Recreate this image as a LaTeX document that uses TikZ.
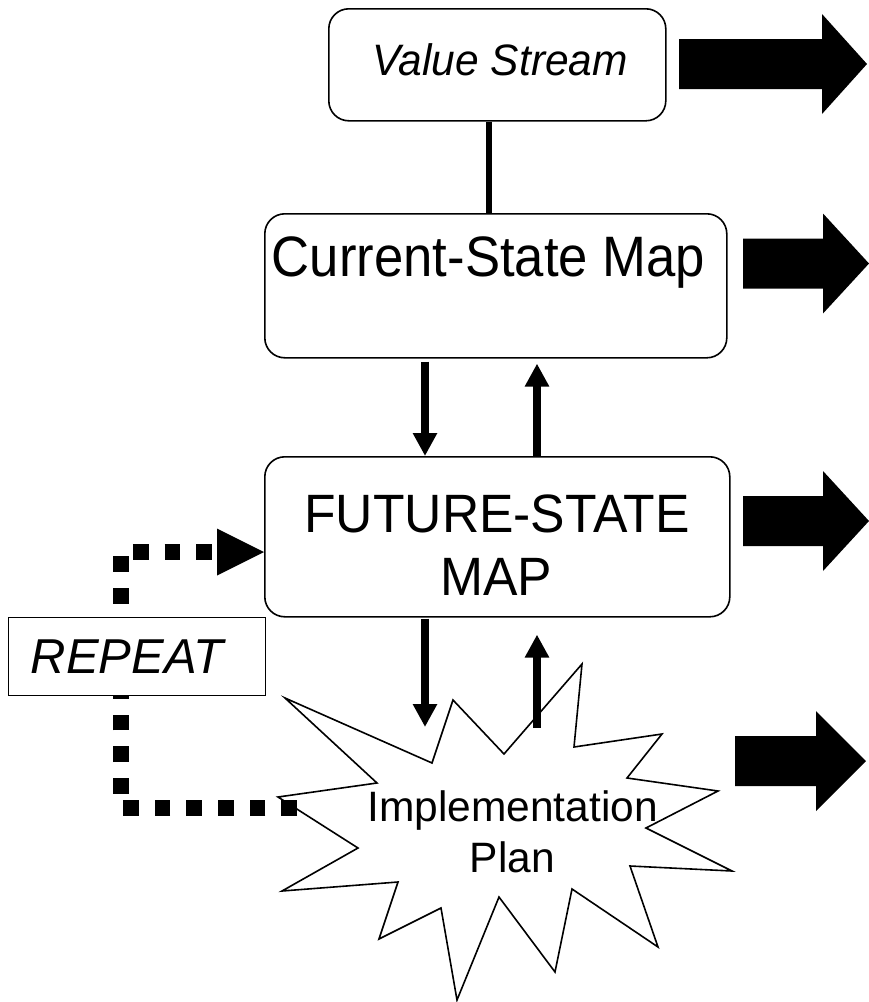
\documentclass[tikz,border=0pt]{standalone}
\usepackage{fontspec}
\usepackage{graphicx}
\setmainfont{Liberation Sans}
\usetikzlibrary{arrows.meta}

% horizontally condensed text
\newcommand\squeezed[2]{\scalebox{#1}[1]{#2}}

\begin{document}
\begin{tikzpicture}[x=1pt,y=-1pt,
  roundbox/.style={draw, line width=1.6pt, rounded corners=20pt, fill=white, inner sep=0pt},
  plainbox/.style={draw, line width=1.4pt, fill=white, inner sep=0pt},
  boxtext/.style={inner sep=0pt, anchor=base},
  flowarrow/.style={line width=8.5pt, -{Triangle[width=23pt 0 0,length=23pt 0 0]}},
  tieline/.style={line width=6pt},
  repeatpath/.style={line width=15.5pt, dash pattern=on 15.7pt off 16pt},
  starburst/.style={draw, line width=1.6pt, line join=miter, fill=white}
]
\useasboundingbox (0,0) rectangle (869,1002);

% map boxes
\node[roundbox, minimum width=337pt, minimum height=112pt, anchor=north west] (vs) at (328,8) {};
\node[roundbox, minimum width=462pt, minimum height=144pt, anchor=north west] (cs) at (264,213) {};
\node[roundbox, minimum width=465pt, minimum height=160pt, anchor=north west] (fs) at (264,456) {};

% implementation plan burst
\draw[starburst] (285,698) -- (432,763) -- (453,700) -- (504,754) -- (582,664)
  -- (574,747) -- (662,734) -- (627,778) -- (718,791) -- (646,828) -- (732,871)
  -- (630,866) -- (658,947) -- (572,889) -- (555,972) -- (499,897) -- (457,1000)
  -- (441,908) -- (379,939) -- (398,882) -- (282,891) -- (358,848) -- (278,797)
  -- (377,783) -- cycle;

% box texts
\node[boxtext, font=\fontsize{44}{48}\selectfont\itshape] (vstext) at (500,75) {\squeezed{0.965}{Value Stream}};
\node[boxtext, font=\fontsize{57}{60}\selectfont] (cstext) at (488.5,276) {\squeezed{0.924}{Current-State Map}};
\node[boxtext, font=\fontsize{54}{58}\selectfont] (fstext1) at (497,532) {\squeezed{0.956}{FUTURE-STATE}};
\node[boxtext, font=\fontsize{54}{58}\selectfont] (fstext2) at (496,595) {\squeezed{0.956}{MAP}};
\node[boxtext, font=\fontsize{42.5}{46}\selectfont] (iptext1) at (512.5,821) {Implementation};
\node[boxtext, font=\fontsize{42.5}{46}\selectfont] (iptext2) at (512.5,872) {Plan};

% columns of the connectors
\coordinate (colmid) at (489,0);
\coordinate (coldown) at (425,0);
\coordinate (colup) at (537,0);
\coordinate (burstin) at (425,727);
\coordinate (burstout) at (537,728);

\draw[tieline] (vs.south -| colmid) -- (cs.north -| colmid);
\draw[flowarrow, shorten <=3pt] (cs.south -| coldown) -- (fs.north -| coldown);
\draw[flowarrow, shorten >=5pt] (fs.north -| colup) -- (cs.south -| colup);
\draw[flowarrow, shorten <=1pt] (fs.south -| coldown) -- (burstin);
\draw[flowarrow, shorten >=17pt] (burstout) -- (fs.south -| colup);

% block arrows on the right
\foreach \xa/\xh/\xt/\yc in {679/822/867/64, 743/823/869/263.5, 743/823/869/521, 735/816/866/761}
  \fill (\xa,{\yc-25}) -- (\xh,{\yc-25}) -- (\xh,{\yc-50}) -- (\xt,\yc)
    -- (\xh,{\yc+50}) -- (\xh,{\yc+25}) -- (\xa,{\yc+25}) -- cycle;

% repeat loop back to the future-state map
\coordinate (loopstart) at (297,808);
\coordinate (loopend) at (264,552);
\draw[repeatpath] (loopstart) -- (121,808) -- (121,552) -- ([xshift=-47pt]loopend);
\fill ([xshift=-47pt,yshift=23.5pt]loopend) -- (loopend) -- ([xshift=-47pt,yshift=-23.5pt]loopend) -- cycle;

\node[plainbox, minimum width=257pt, minimum height=78pt, anchor=north west] (rp) at (8,617) {};
\node[boxtext, font=\fontsize{49}{53}\selectfont\itshape] (rptext) at (127,673) {\squeezed{1.0}{REPEAT}};
\end{tikzpicture}
\end{document}
